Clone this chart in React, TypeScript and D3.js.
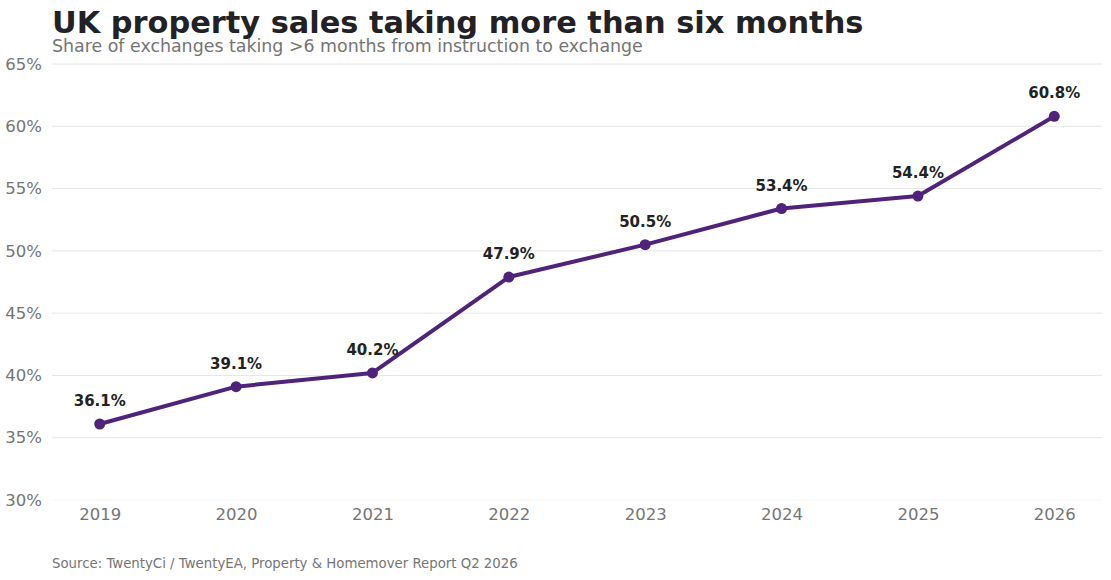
import { useEffect, useRef } from "react";
import * as d3 from "d3";

const years = ["2019", "2020", "2021", "2022", "2023", "2024", "2025", "2026"];
const shareOver6m = [36.1, 39.1, 40.2, 47.9, 50.5, 53.4, 54.4, 60.8];
const yTicks = [30, 35, 40, 45, 50, 55, 60, 65];

const W = 1111;
const H = 580;
const margin = { top: 64, right: 9, bottom: 80, left: 52 };
const FONT = "'DejaVu Sans', Verdana, sans-serif";
const COLORS = {
  line: "#50237a",
  grid: "#e6e6e6",
  tick: "#757575",
  title: "#222226",
  label: "#222222",
};

export default function App() {
  const svgRef = useRef<SVGSVGElement>(null);

  useEffect(() => {
    if (!svgRef.current) return;
    const svg = d3.select(svgRef.current);
    svg.selectAll("*").remove();

    const innerW = W - margin.left - margin.right;
    const innerH = H - margin.top - margin.bottom;

    const x = d3.scalePoint<string>().domain(years).range([0, innerW]).padding(0.35);
    const y = d3.scaleLinear().domain([30, 65]).range([innerH, 0]);

    // titles
    svg.append("text")
      .attr("x", 52).attr("y", 33)
      .attr("font-family", FONT).attr("font-size", 30.4).attr("font-weight", 700)
      .attr("fill", COLORS.title)
      .text("UK property sales taking more than six months");
    svg.append("text")
      .attr("x", 52).attr("y", 52)
      .attr("font-family", FONT).attr("font-size", 17.4)
      .attr("fill", COLORS.tick)
      .text("Share of exchanges taking >6 months from instruction to exchange");

    const g = svg.append("g").attr("transform", `translate(${margin.left},${margin.top})`);

    // grid
    g.selectAll("line.grid")
      .data(yTicks)
      .join("line")
      .attr("class", "grid")
      .attr("x1", 0).attr("x2", innerW)
      .attr("y1", (d) => y(d)).attr("y2", (d) => y(d))
      .attr("stroke", (d) => (d === 30 ? "#f6f6f6" : COLORS.grid))
      .attr("stroke-width", 1);

    // y axis
    g.append("g")
      .call(d3.axisLeft(y).tickValues(yTicks).tickFormat((d) => `${d}%`).tickSize(0))
      .call((a) => a.select(".domain").remove())
      .call((a) => a.selectAll("text")
        .attr("fill", COLORS.tick)
        .attr("font-size", 16.5)
        .attr("font-family", FONT)
        .attr("dx", -7));

    // x axis
    g.append("g")
      .attr("transform", `translate(0,${innerH})`)
      .call(d3.axisBottom(x).tickSize(0))
      .call((a) => a.select(".domain").remove())
      .call((a) => a.selectAll("text")
        .attr("fill", COLORS.tick)
        .attr("font-size", 16.5)
        .attr("font-family", FONT)
        .attr("dy", "1.05em"));

    const pts = years.map((yr, i) => ({ yr, v: shareOver6m[i] }));

    const line = d3.line<{ yr: string; v: number }>()
      .x((d) => x(d.yr) ?? 0)
      .y((d) => y(d.v));

    g.append("path")
      .datum(pts)
      .attr("d", line)
      .attr("fill", "none")
      .attr("stroke", COLORS.line)
      .attr("stroke-width", 4)
      .attr("stroke-linejoin", "round");

    g.selectAll("circle.pt")
      .data(pts)
      .join("circle")
      .attr("class", "pt")
      .attr("cx", (d) => x(d.yr) ?? 0)
      .attr("cy", (d) => y(d.v))
      .attr("r", 5.5)
      .attr("fill", COLORS.line);

    g.selectAll("text.val")
      .data(pts)
      .join("text")
      .attr("class", "val")
      .attr("x", (d) => x(d.yr) ?? 0)
      .attr("y", (d) => y(d.v) - 18)
      .attr("text-anchor", "middle")
      .attr("font-family", FONT)
      .attr("font-size", 15)
      .attr("font-weight", 700)
      .attr("fill", COLORS.label)
      .text((d) => `${d.v.toFixed(1)}%`);

    svg.append("text")
      .attr("x", 52).attr("y", 568)
      .attr("font-family", FONT).attr("font-size", 13.3)
      .attr("fill", COLORS.tick)
      .text("Source: TwentyCi / TwentyEA, Property & Homemover Report Q2 2026");
  }, []);

  return (
    <svg
      ref={svgRef}
      width={W}
      height={H}
      style={{ position: "absolute", left: 0, top: 0, background: "#fff" }}
    />
  );
}
